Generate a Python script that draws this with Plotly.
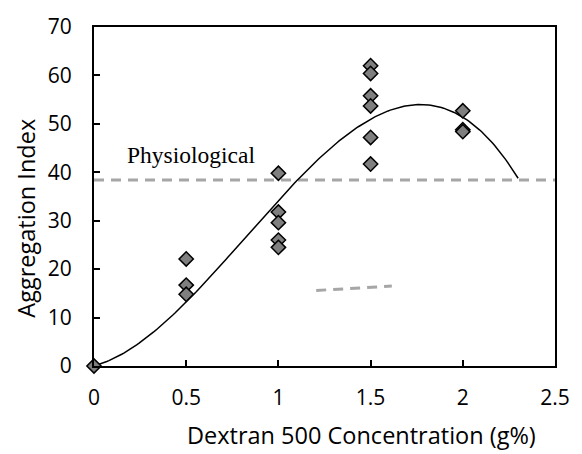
import numpy as np
import plotly.graph_objects as go

# Measured aggregation index at each dextran 500 concentration
conc = [0, 0.5, 0.5, 0.5, 1, 1, 1, 1, 1, 1.5, 1.5, 1.5, 1.5, 1.5, 1.5, 2, 2, 2]
agg_index = [0, 22.1, 16.7, 14.8, 39.8, 31.8, 29.6, 26.0, 24.5,
             62.0, 60.4, 55.8, 53.7, 47.2, 41.7, 52.7, 48.8, 48.4]

# Cubic trendline y = c1*x + c2*x^2 + c3*x^3, drawn up to x = 2.3
trend_coef = [10.53, 39.78, -16.10]
trend_xmax = 2.3

# Physiological reference level
physio_level = 38.4

# Short grey dashed segment
seg_x = [1.205, 1.615]
seg_y = [15.6, 16.5]

x_ticks = [0, 0.5, 1, 1.5, 2, 2.5]
x_tick_text = ["0", "0.5", "1", "1.5", "2", "2.5"]
y_ticks = [0, 10, 20, 30, 40, 50, 60, 70]

tx = np.linspace(0, trend_xmax, 200)
ty = trend_coef[0] * tx + trend_coef[1] * tx**2 + trend_coef[2] * tx**3

fig = go.Figure()
fig.add_trace(go.Scatter(x=[0, 2.5], y=[physio_level, physio_level], mode="lines",
                         line=dict(color="#A6A6A6", width=3, dash="10px,7px"),
                         hoverinfo="skip", showlegend=False))
fig.add_trace(go.Scatter(x=seg_x, y=seg_y, mode="lines",
                         line=dict(color="#A6A6A6", width=3, dash="10px,7px"),
                         hoverinfo="skip", showlegend=False))
fig.add_trace(go.Scatter(x=tx, y=ty, mode="lines",
                         line=dict(color="black", width=1.5),
                         showlegend=False))
fig.add_trace(go.Scatter(x=conc, y=agg_index, mode="markers",
                         marker=dict(symbol="diamond", size=11, color="#7F7F7F",
                                     line=dict(color="black", width=1.5)),
                         cliponaxis=False, showlegend=False))

fig.add_annotation(x=0.527, y=43.6, text="Physiological", showarrow=False,
                   font=dict(family="Liberation Serif", size=23.5, color="black"))

title_font = dict(family="Open Sans", size=23.5, color="black")

# Axis titles, placed as free text
fig.add_annotation(xref="paper", yref="paper", x=0.5805, y=-0.205,
                   xanchor="center", yanchor="middle",
                   text="Dextran 500 Concentration (g%)", showarrow=False,
                   font=title_font)
fig.add_annotation(xref="paper", yref="paper", x=-0.148, y=0.437,
                   xanchor="center", yanchor="middle", textangle=-90,
                   text="Aggregation Index", showarrow=False,
                   font=title_font)

fig.update_layout(
    width=582, height=454,
    margin=dict(l=94, r=16, t=15, b=88),
    paper_bgcolor="white", plot_bgcolor="white",
    font=dict(family="Open Sans", size=21, color="black"),
    xaxis=dict(range=[0, 2.5], tickvals=x_ticks, ticktext=x_tick_text,
               ticks="inside", ticklen=6, tickwidth=1.5, tickcolor="black",
               showline=True, linecolor="black", linewidth=2, mirror=True,
               showgrid=False, zeroline=False, ticklabelstandoff=12),
    yaxis=dict(range=[0, 70], tickvals=y_ticks,
               ticks="inside", ticklen=6, tickwidth=1.5, tickcolor="black",
               showline=True, linecolor="black", linewidth=2, mirror=True,
               showgrid=False, zeroline=False, ticklabelstandoff=16),
)

fig.write_html("out.html")
